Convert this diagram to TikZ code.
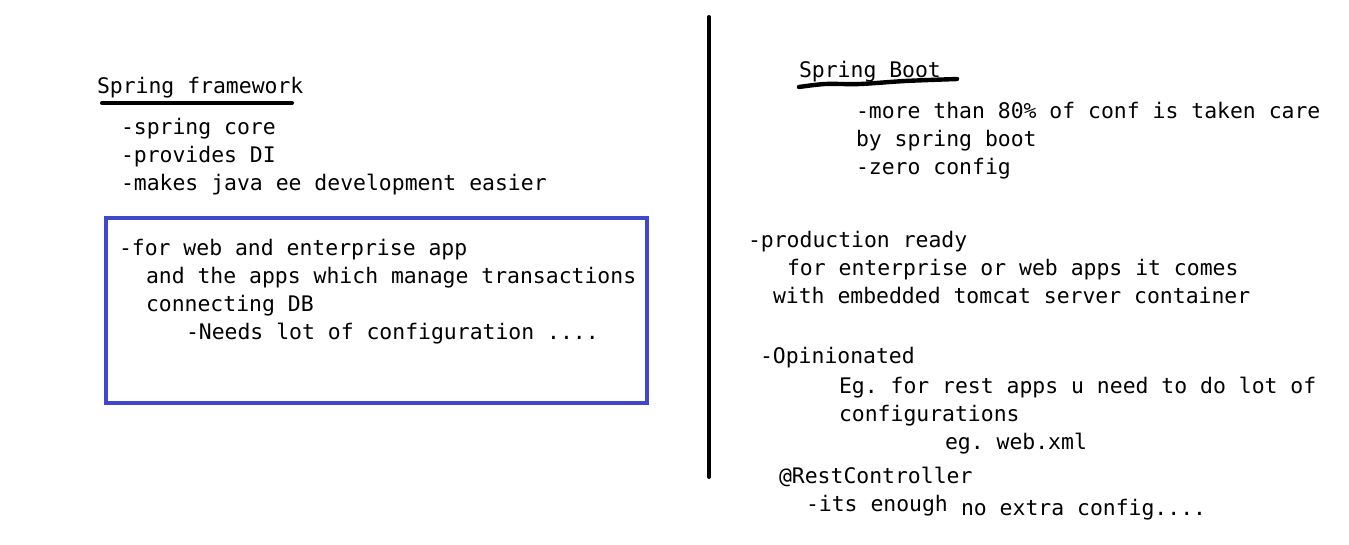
\documentclass[tikz,border=0pt]{standalone}
\usepackage{fontspec}
\setmonofont{DejaVu Sans Mono}
\usepackage{tikz}

\begin{document}
\begin{tikzpicture}[x=0.75pt,y=-0.75pt,
	txt/.style={anchor=base west,inner sep=0,outer sep=0,font=\ttfamily\fontsize{16.07pt}{19pt}\selectfont},
	pen/.style={line width=3pt,line cap=round}]
	\useasboundingbox (0,0) rectangle (1349,544);
	% left column
	\node[txt] (sf) at (97,93) {Spring framework};
	\draw[pen] (102,103) -- (292,103);
	\node[txt] (core) at (121,134) {-spring core};
	\node[txt] (di) at (121,162) {-provides DI};
	\node[txt] (easy) at (121,190) {-makes java ee development easier};
	\draw[line width=3pt,color={rgb,255:red,63;green,72;blue,204}] (106,218) rectangle (647,403);
	\node[txt] (web) at (119,255) {-for web and enterprise app};
	\node[txt] (tx) at (146,283) {and the apps which manage transactions};
	\node[txt] (db) at (146,311) {connecting DB};
	\node[txt] (conf) at (186,339) {-Needs lot of configuration ....};
	% divider
	\draw[pen] (709,17) -- (709,477);
	% right column
	\node[txt] (sb) at (799,77) {Spring Boot};
	\draw[pen,line width=3.3pt] plot[smooth] coordinates {(799,87) (825,84) (860,84) (905,81) (957,79)};
	\node[txt] (more) at (856,118) {-more than 80\% of conf is taken care};
	\node[txt] (by) at (856,146) {by spring boot};
	\node[txt] (zero) at (856,174) {-zero config};
	\node[txt] (prod) at (748,247) {-production ready};
	\node[txt] (ent) at (787,275) {for enterprise or web apps it comes};
	\node[txt] (tom) at (773,303) {with embedded tomcat server container};
	\node[txt] (opi) at (760,363) {-Opinionated};
	\node[txt] (eg) at (839,393) {Eg. for rest apps u need to do lot of};
	\node[txt] (cfg) at (839,421) {configurations};
	\node[txt] (xml) at (945,449) {eg. web.xml};
	\node[txt] (rest) at (779,483) {@RestController};
	\node[txt] (enough) at (806,511) {-its enough};
	\node[txt] (extra) at (961,515) {no extra config....};
\end{tikzpicture}
\end{document}
